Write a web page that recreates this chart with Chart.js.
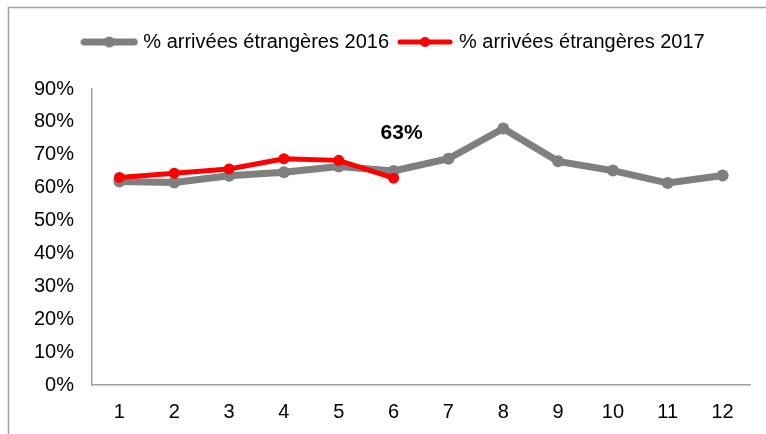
<!DOCTYPE html>
<html>
<head>
<meta charset="utf-8">
<script src="https://cdn.jsdelivr.net/npm/chart.js@4/dist/chart.umd.min.js"></script>
<style>
  html, body { margin: 0; padding: 0; background: #ffffff; }
  #wrap { width: 766px; height: 434px; position: relative; }
</style>
</head>
<body>
<div id="wrap"><canvas id="c" width="766" height="434"></canvas></div>
<script>
const categories = ['1','2','3','4','5','6','7','8','9','10','11','12'];
const series2016 = [61.9, 61.6, 63.6, 64.7, 66.4, 65.1, 68.8, 78.0, 68.0, 65.2, 61.4, 63.7];
const series2017 = [63.1, 64.4, 65.7, 68.8, 68.3, 62.9];
const seriesLabels = ['% arrivées étrangères 2016', '% arrivées étrangères 2017'];
const annotatedIndex = 5;
const annotatedText = '63%';

const GREY = '#7f7f7f';
const RED = '#ff0000';
const FONT = '"Liberation Sans", Arial, sans-serif';

function legendIcon(color, lw, r) {
  const c = document.createElement('canvas');
  c.width = 58; c.height = 14;
  const g = c.getContext('2d');
  g.strokeStyle = color; g.lineWidth = lw; g.lineCap = 'round';
  g.beginPath(); g.moveTo(4, 7); g.lineTo(54, 7); g.stroke();
  g.fillStyle = color;
  g.beginPath(); g.arc(29, 7, r, 0, Math.PI * 2); g.fill();
  return c;
}
const icons = [legendIcon(GREY, 7, 5.5), legendIcon(RED, 5, 5)];

const framePlugin = {
  id: 'frame',
  beforeDraw(chart) {
    const ctx = chart.ctx;
    ctx.save();
    ctx.fillStyle = '#ffffff';
    ctx.fillRect(0, 0, chart.width, chart.height);
    ctx.strokeStyle = '#a0a0a0';
    ctx.lineWidth = 1.5;
    ctx.strokeRect(8.5, 7.5, chart.width + 20, chart.height + 20);
    ctx.restore();
  }
};

// shift the centred legend a little to the right, as in the reference
const legendShiftPlugin = {
  id: 'legendShift',
  afterLayout(chart) {
    if (chart.legend) {
      chart.legend.left += 14;
      chart.legend.right += 14;
    }
  }
};

const labelPlugin = {
  id: 'pointLabel',
  afterDatasetsDraw(chart) {
    const meta = chart.getDatasetMeta(1);
    const pt = meta.data[annotatedIndex];
    if (!pt) return;
    const ctx = chart.ctx;
    ctx.save();
    ctx.font = 'bold 21px ' + FONT;
    ctx.fillStyle = '#000000';
    ctx.textAlign = 'center';
    ctx.textBaseline = 'middle';
    ctx.fillText(annotatedText, pt.x + 8, pt.y - 45);
    ctx.restore();
  }
};

new Chart(document.getElementById('c'), {
  type: 'line',
  data: {
    labels: categories,
    datasets: [
      {
        label: seriesLabels[0],
        data: series2016,
        borderColor: GREY,
        backgroundColor: GREY,
        borderWidth: 7,
        pointRadius: 6,
        pointBorderWidth: 0,
        pointBackgroundColor: GREY,
        tension: 0,
        order: 2
      },
      {
        label: seriesLabels[1],
        data: series2017,
        borderColor: RED,
        backgroundColor: RED,
        borderWidth: 5,
        pointRadius: 5.5,
        pointBorderWidth: 0,
        pointBackgroundColor: RED,
        tension: 0,
        order: 1
      }
    ]
  },
  options: {
    responsive: false,
    animation: false,
    devicePixelRatio: 1,
    layout: { padding: { top: 20, left: 12, right: 16, bottom: 0 } },
    plugins: {
      tooltip: { enabled: false },
      title: {
        display: true,
        text: '',
        weight: 500,
        font: { size: 10 },
        padding: { top: 0, bottom: 15 }
      },
      legend: {
        display: true,
        position: 'top',
        labels: {
          usePointStyle: true,
          pointStyleWidth: 48,
          padding: 12,
          color: '#000000',
          font: { family: FONT, size: 20 },
          generateLabels(chart) {
            return chart.data.datasets.map((ds, i) => ({
              text: ds.label,
              pointStyle: icons[i],
              fillStyle: ds.borderColor,
              strokeStyle: ds.borderColor,
              lineWidth: 0,
              hidden: false,
              datasetIndex: i,
              fontColor: '#000000'
            }));
          }
        }
      }
    },
    scales: {
      x: {
        offset: true,
        grid: { display: false, drawTicks: false },
        border: { display: true, color: '#a0a0a0', width: 1.5 },
        ticks: { color: '#000000', font: { family: FONT, size: 20 }, padding: 15, maxRotation: 0 },
        afterFit(s) { s.height = 49; }
      },
      y: {
        min: 0,
        max: 90,
        grid: { display: false, drawTicks: false },
        border: { display: true, color: '#a0a0a0', width: 1.5 },
        ticks: {
          stepSize: 10,
          color: '#000000',
          font: { family: FONT, size: 20 },
          padding: 18,
          callback: v => v + '%'
        },
        afterFit(s) { s.width = 80; }
      }
    }
  },
  plugins: [framePlugin, legendShiftPlugin, labelPlugin]
});
</script>
</body>
</html>
